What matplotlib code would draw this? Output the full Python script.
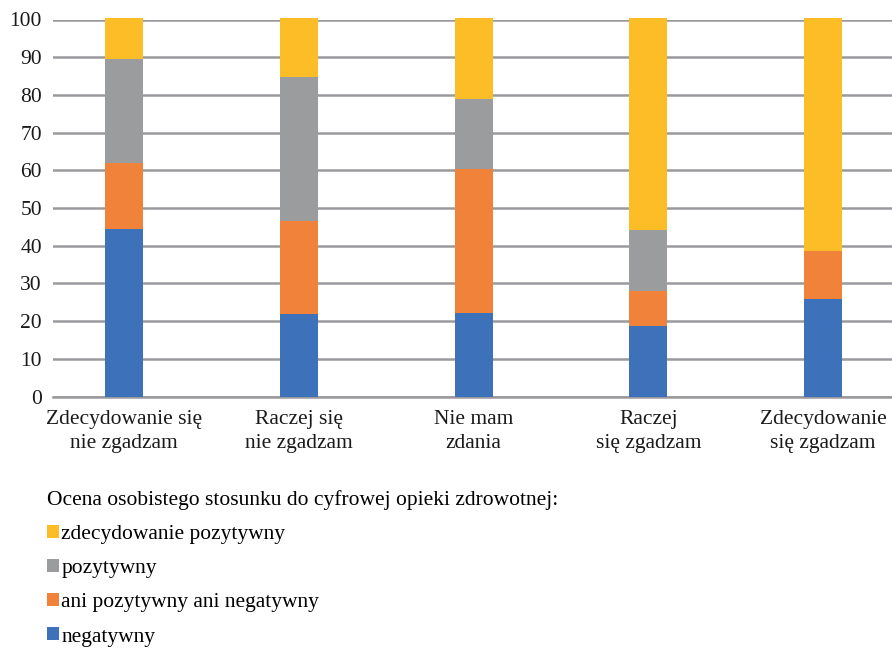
import numpy as np
import matplotlib.pyplot as plt

plt.rcParams['font.family'] = ['Liberation Serif', 'DejaVu Serif']

# Data (percent)
categories = ['Zdecydowanie się\nnie zgadzam', 'Raczej się\nnie zgadzam', 'Nie mam\nzdania',
              'Raczej\nsię zgadzam', 'Zdecydowanie\nsię zgadzam']
negatywny = [44.3, 21.8, 22.2, 18.8, 25.9]
ani = [17.7, 24.7, 38.2, 9.2, 12.8]
pozytywny = [27.6, 38.2, 18.6, 16.2, 0.0]
zdec_pozytywny = [10.9, 15.6, 21.5, 56.1, 61.8]

series_labels = ['negatywny', 'ani pozytywny ani negatywny', 'pozytywny', 'zdecydowanie pozytywny']
colors = ['#3d72bb', '#f0823a', '#9a9c9d', '#fcbd27']
legend_title = 'Ocena osobistego stosunku do cyfrowej opieki zdrowotnej:'

fig = plt.figure(figsize=(8.92, 6.5), dpi=100)
ax = fig.add_axes([53 / 892, 1 - 396.5 / 650, 1 - 53 / 892, (396.5 - 19.5) / 650])

x = np.arange(len(categories))
bottom = np.zeros(len(categories))
handles = []
for vals, lab, col in zip([negatywny, ani, pozytywny, zdec_pozytywny], series_labels, colors):
    b = ax.bar(x, vals, width=0.217, bottom=bottom, color=col, label=lab, zorder=3, clip_on=False)
    bottom += np.array(vals)
    handles.append(b)

ax.set_xlim(-0.406, 4.394)
ax.set_ylim(0, 100)
ax.set_yticks(range(0, 101, 10))
ax.yaxis.grid(True, color='#9a9a9e', linewidth=1.8, zorder=0)
ax.set_axisbelow(True)
for s in ['top', 'right', 'left']:
    ax.spines[s].set_visible(False)
ax.spines['bottom'].set_color('#9a9a9e')
ax.spines['bottom'].set_linewidth(1.8)
ax.tick_params(axis='both', length=0, labelsize=15.5, colors='#1a1a1a')
ax.tick_params(axis='y', pad=8)
ax.tick_params(axis='x', pad=10)
ax.set_xticks(x)
ax.set_xticklabels(categories, linespacing=1.32)

leg = fig.legend(handles=handles[::-1], labels=series_labels[::-1], title=legend_title,
                 loc='upper left', bbox_to_anchor=(47 / 892, 1 - 490 / 650),
                 frameon=False, fontsize=15.5, title_fontsize=15.5, alignment='left',
                 handlelength=0.55, handleheight=0.55, handletextpad=0.12,
                 labelspacing=0.7, borderaxespad=0, borderpad=0)

fig.savefig('out.png', dpi=100)
